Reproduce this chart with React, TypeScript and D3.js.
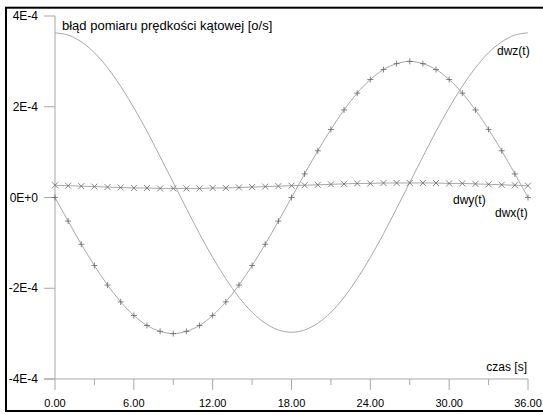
import React from 'react';
import * as d3 from 'd3';

// czas [s], co 1 s
const czas = [0, 1, 2, 3, 4, 5, 6, 7, 8, 9, 10, 11, 12, 13, 14, 15, 16, 17, 18, 19, 20, 21, 22, 23, 24, 25, 26, 27, 28, 29, 30, 31, 32, 33, 34, 35, 36];
// wartosci w jednostkach 1E-4
const dwx = [0, -0.52, -1.03, -1.5, -1.93, -2.3, -2.6, -2.82, -2.95, -3.0, -2.95, -2.82, -2.6, -2.3, -1.93, -1.5, -1.03, -0.52, 0, 0.52, 1.03, 1.5, 1.93, 2.3, 2.6, 2.82, 2.95, 3.0, 2.95, 2.82, 2.6, 2.3, 1.93, 1.5, 1.03, 0.52, 0];
const dwy = [0.27, 0.26, 0.25, 0.24, 0.23, 0.22, 0.21, 0.21, 0.2, 0.2, 0.2, 0.2, 0.21, 0.21, 0.22, 0.23, 0.24, 0.25, 0.26, 0.27, 0.28, 0.29, 0.3, 0.31, 0.31, 0.32, 0.32, 0.32, 0.32, 0.32, 0.31, 0.31, 0.3, 0.29, 0.28, 0.27, 0.26];
const dwz = [3.63, 3.58, 3.43, 3.19, 2.86, 2.45, 1.98, 1.46, 0.9, 0.33, -0.24, -0.8, -1.32, -1.79, -2.2, -2.53, -2.77, -2.92, -2.97, -2.92, -2.77, -2.53, -2.2, -1.79, -1.32, -0.8, -0.24, 0.33, 0.9, 1.46, 1.98, 2.45, 2.86, 3.19, 3.43, 3.58, 3.63];

const xTicks = [0, 6, 12, 18, 24, 30, 36];
const xMinor = [3, 9, 15, 21, 27, 33];
const yTicks = [4, 2, 0, -2, -4];
const yLabels = ['4E-4', '2E-4', '0E+0', '-2E-4', '-4E-4'];

const W = 543, H = 414;
const FONT = 'Arial, "Liberation Sans", sans-serif';

export default function App() {
  const x = d3.scaleLinear().domain([0, 36]).range([55, 528]);
  const y = d3.scaleLinear().domain([-4, 4]).range([379, 16]);

  const line = (vals: number[]) =>
    d3.line<number>()
      .x((_, i) => x(czas[i]))
      .y(d => y(d))
      .curve(d3.curveCatmullRom)(vals) || '';

  const lineCol = '#a8a8a8';
  const markCol = '#666';

  return (
    <svg width={W} height={H} style={{ position: 'absolute', left: 0, top: 0, background: '#fff' }} fontFamily={FONT}>
      <rect x={6} y={7.7} width={545} height={403.3} fill="none" stroke="#000" strokeWidth={2} />

      {/* os Y */}
      <line x1={55} x2={55} y1={y(4)} y2={y(-4)} stroke={lineCol} />
      {yTicks.map((t, i) => (
        <g key={t}>
          <line x1={44} x2={55} y1={y(t)} y2={y(t)} stroke={lineCol} />
          <text x={38} y={y(t)} dy="0.35em" textAnchor="end" fontSize={12}>{yLabels[i]}</text>
        </g>
      ))}

      {/* os X */}
      <line x1={44} x2={x(36)} y1={y(-4)} y2={y(-4)} stroke={lineCol} />
      {xTicks.map(t => (
        <g key={t}>
          <line x1={x(t)} x2={x(t)} y1={y(-4)} y2={y(-4) + 11} stroke={lineCol} />
          <text x={x(t)} y={407} textAnchor="middle" fontSize={11}>{t.toFixed(2)}</text>
        </g>
      ))}
      {xMinor.map(t => (
        <line key={t} x1={x(t)} x2={x(t)} y1={y(-4)} y2={y(-4) + 6} stroke={lineCol} />
      ))}

      {/* krzywe */}
      <path d={line(dwz)} fill="none" stroke={lineCol} strokeWidth={1} />
      <path d={line(dwx)} fill="none" stroke={lineCol} strokeWidth={1} />
      <path d={line(dwy)} fill="none" stroke={lineCol} strokeWidth={1} />

      {dwx.map((v, i) => (
        <path key={'p' + i} d={`M${x(czas[i]) - 3},${y(v)}h6M${x(czas[i])},${y(v) - 3}v6`} stroke={markCol} strokeWidth={0.8} />
      ))}
      {dwy.map((v, i) => (
        <path key={'x' + i} d={`M${x(czas[i]) - 3},${y(v) - 3}l6,6M${x(czas[i]) - 3},${y(v) + 3}l6,-6`} stroke={markCol} strokeWidth={0.8} />
      ))}

      <text x={62} y={30} fontSize={13}>błąd pomiaru prędkości kątowej [o/s]</text>
      <text x={527} y={371} textAnchor="end" fontSize={12}>czas [s]</text>
      <text x={497} y={55} fontSize={12}>dwz(t)</text>
      <text x={453} y={204} fontSize={12}>dwy(t)</text>
      <text x={495} y={217} fontSize={12}>dwx(t)</text>
    </svg>
  );
}
